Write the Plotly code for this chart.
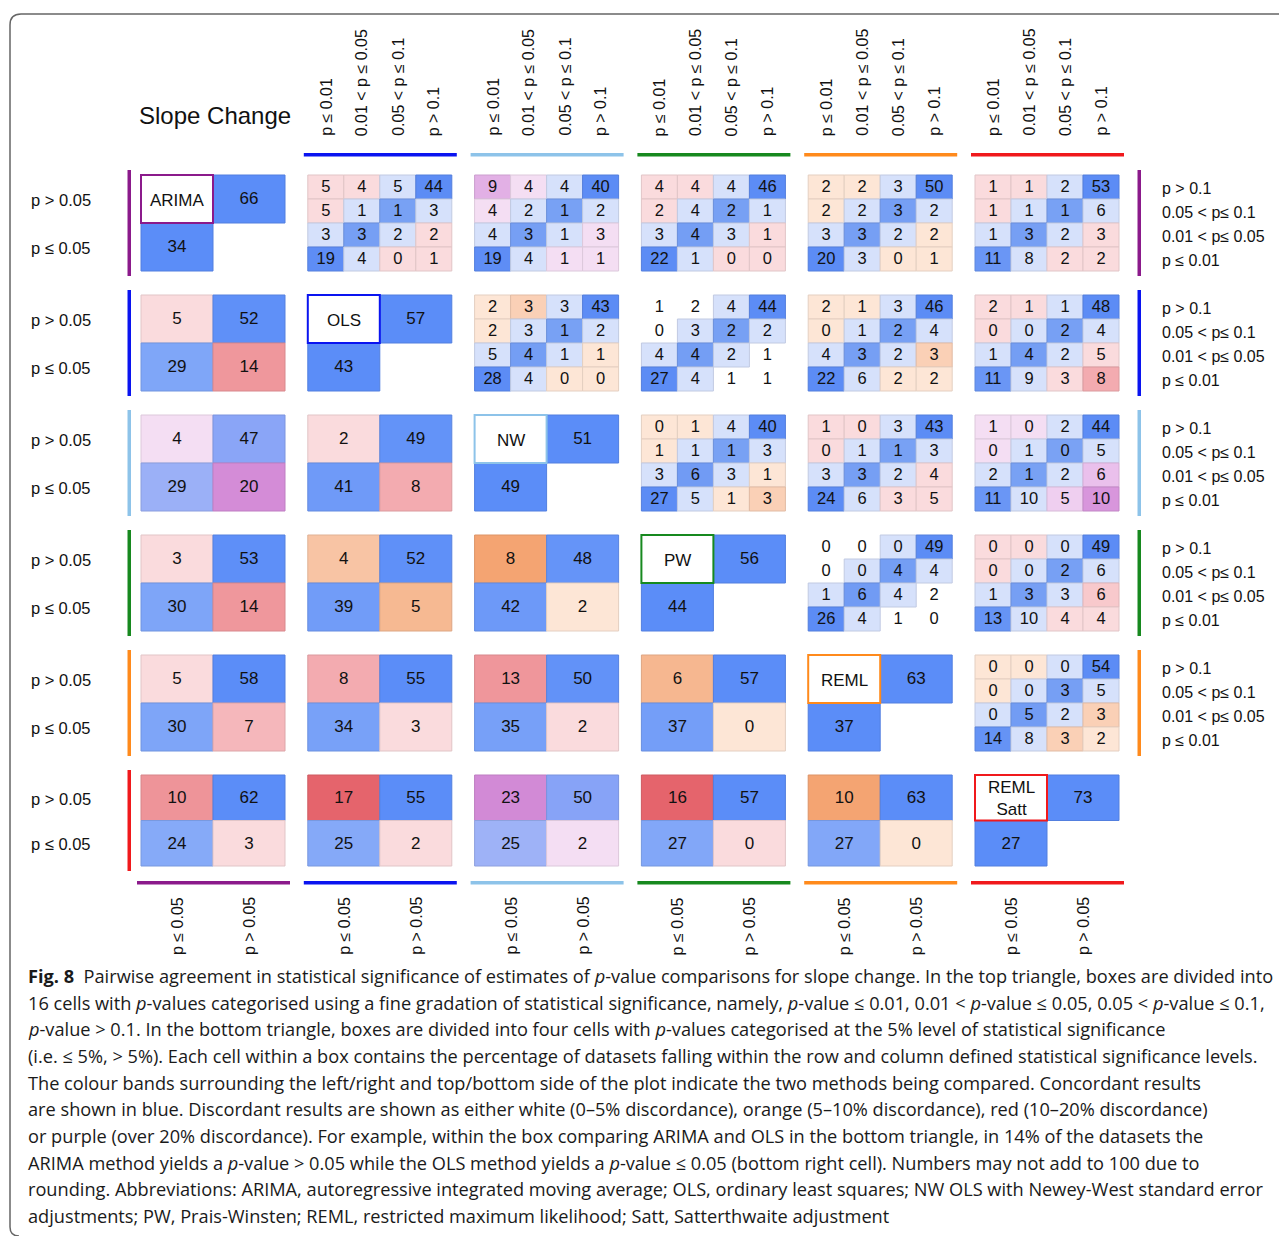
import plotly.graph_objects as go

W, H = 1287, 1236

# ---------------- data ----------------
methods = ["ARIMA", "OLS", "NW", "PW", "REML", "REML<br>Satt"]
method_colors = ["#8B1A8B", "#0A14F0", "#8DC3E9", "#17891F", "#FF8A1C", "#F0191C"]

# diagonal boxes: both methods p > 0.05 (top right), both p <= 0.05 (bottom left)
diag_top = [66, 57, 51, 56, 63, 73]
diag_bottom = [34, 43, 49, 44, 37, 27]

# bottom triangle (row method, col method): [row>0.05 & col<=0.05, both >0.05, both <=0.05, row<=0.05 & col>0.05]
coarse = {
    (1, 0): [5, 52, 29, 14],
    (2, 0): [4, 47, 29, 20],
    (2, 1): [2, 49, 41, 8],
    (3, 0): [3, 53, 30, 14],
    (3, 1): [4, 52, 39, 5],
    (3, 2): [8, 48, 42, 2],
    (4, 0): [5, 58, 30, 7],
    (4, 1): [8, 55, 34, 3],
    (4, 2): [13, 50, 35, 2],
    (4, 3): [6, 57, 37, 0],
    (5, 0): [10, 62, 24, 3],
    (5, 1): [17, 55, 25, 2],
    (5, 2): [23, 50, 25, 2],
    (5, 3): [16, 57, 27, 0],
    (5, 4): [10, 63, 27, 0],
}

# top triangle: 4x4, rows (row method) p>0.1 .. p<=0.01, cols (col method) p<=0.01 .. p>0.1
fine = {
    (0, 1): [[5, 4, 5, 44], [5, 1, 1, 3], [3, 3, 2, 2], [19, 4, 0, 1]],
    (0, 2): [[9, 4, 4, 40], [4, 2, 1, 2], [4, 3, 1, 3], [19, 4, 1, 1]],
    (0, 3): [[4, 4, 4, 46], [2, 4, 2, 1], [3, 4, 3, 1], [22, 1, 0, 0]],
    (0, 4): [[2, 2, 3, 50], [2, 2, 3, 2], [3, 3, 2, 2], [20, 3, 0, 1]],
    (0, 5): [[1, 1, 2, 53], [1, 1, 1, 6], [1, 3, 2, 3], [11, 8, 2, 2]],
    (1, 2): [[2, 3, 3, 43], [2, 3, 1, 2], [5, 4, 1, 1], [28, 4, 0, 0]],
    (1, 3): [[1, 2, 4, 44], [0, 3, 2, 2], [4, 4, 2, 1], [27, 4, 1, 1]],
    (1, 4): [[2, 1, 3, 46], [0, 1, 2, 4], [4, 3, 2, 3], [22, 6, 2, 2]],
    (1, 5): [[2, 1, 1, 48], [0, 0, 2, 4], [1, 4, 2, 5], [11, 9, 3, 8]],
    (2, 3): [[0, 1, 4, 40], [1, 1, 1, 3], [3, 6, 3, 1], [27, 5, 1, 3]],
    (2, 4): [[1, 0, 3, 43], [0, 1, 1, 3], [3, 3, 2, 4], [24, 6, 3, 5]],
    (2, 5): [[1, 0, 2, 44], [0, 1, 0, 5], [2, 1, 2, 6], [11, 10, 5, 10]],
    (3, 4): [[0, 0, 0, 49], [0, 0, 4, 4], [1, 6, 4, 2], [26, 4, 1, 0]],
    (3, 5): [[0, 0, 0, 49], [0, 0, 2, 6], [1, 3, 3, 6], [13, 10, 4, 4]],
    (4, 5): [[0, 0, 0, 54], [0, 0, 3, 5], [0, 5, 2, 3], [14, 8, 3, 2]],
}

# discordance category of each box
category = {
    (0, 1): "red", (0, 2): "purple", (0, 3): "red", (0, 4): "orange", (0, 5): "red",
    (1, 2): "orange", (1, 3): "white", (1, 4): "orange", (1, 5): "red",
    (2, 3): "orange", (2, 4): "red", (2, 5): "purple",
    (3, 4): "white", (3, 5): "red",
    (4, 5): "orange",
    (1, 0): "red", (2, 0): "purple", (2, 1): "red", (3, 0): "red", (3, 1): "orange",
    (3, 2): "orange", (4, 0): "red", (4, 1): "red", (4, 2): "red", (4, 3): "orange",
    (5, 0): "red", (5, 1): "red", (5, 2): "purple", (5, 3): "red", (5, 4): "orange",
}

coarse_row_labels = ["p > 0.05", "p ≤ 0.05"]
coarse_col_labels = ["p ≤ 0.05", "p > 0.05"]
fine_row_labels = ["p > 0.1", "0.05 < p≤ 0.1", "0.01 < p≤ 0.05", "p ≤ 0.01"]
fine_col_labels = ["p ≤ 0.01", "0.01 < p ≤ 0.05", "0.05 < p ≤ 0.1", "p > 0.1"]

title_text = "Slope Change"

caption_lines = [
    "<b>Fig. 8</b>  Pairwise agreement in statistical significance of estimates of <i>p</i>-value comparisons for slope change. In the top triangle, boxes are divided into",
    "16 cells with <i>p</i>-values categorised using a fine gradation of statistical significance, namely, <i>p</i>-value ≤ 0.01, 0.01 < <i>p</i>-value ≤ 0.05, 0.05 < <i>p</i>-value ≤ 0.1,",
    "<i>p</i>-value > 0.1. In the bottom triangle, boxes are divided into four cells with <i>p</i>-values categorised at the 5% level of statistical significance",
    "(i.e. ≤ 5%, > 5%). Each cell within a box contains the percentage of datasets falling within the row and column defined statistical significance levels.",
    "The colour bands surrounding the left/right and top/bottom side of the plot indicate the two methods being compared. Concordant results",
    "are shown in blue. Discordant results are shown as either white (0–5% discordance), orange (5–10% discordance), red (10–20% discordance)",
    "or purple (over 20% discordance). For example, within the box comparing ARIMA and OLS in the bottom triangle, in 14% of the datasets the",
    "ARIMA method yields a <i>p</i>-value > 0.05 while the OLS method yields a <i>p</i>-value ≤ 0.05 (bottom right cell). Numbers may not add to 100 due to",
    "rounding. Abbreviations: ARIMA, autoregressive integrated moving average; OLS, ordinary least squares; NW OLS with Newey-West standard error",
    "adjustments; PW, Prais-Winsten; REML, restricted maximum likelihood; Satt, Satterthwaite adjustment",
]

# ---------------- layout constants / styles ----------------
OFF = 8  # page body margin compensation
X0, DX, BW = 141.0, 166.8, 144.0
Y0, DY = 175.0, 120.0
BH = [96, 96, 96, 96, 96, 91]
FONT = "Liberation Sans, Arial, sans-serif"
CAP_FONT = "Open Sans, sans-serif"

# colour ramps for discordant cells: (value, rgb) anchors
RAMPS = {
    "red": [(0, (250, 219, 221)), (5, (250, 219, 221)), (7, (245, 183, 187)), (10, (238, 148, 153)),
            (15, (239, 152, 157)), (16, (229, 100, 108)), (30, (229, 96, 106))],
    "orange": [(0, (253, 230, 214)), (2, (253, 230, 214)), (3, (250, 208, 182)), (5, (246, 185, 146)),
               (6, (246, 183, 144)), (8, (244, 164, 114)), (30, (244, 162, 110))],
    "purple": [(0, (244, 222, 243)), (4, (244, 222, 243)), (6, (234, 192, 236)), (9, (226, 176, 229)),
               (10, (216, 150, 220)), (20, (212, 140, 215)), (30, (206, 134, 213))],
}


def clip(t):
    return max(0.0, min(1.0, t))


def lerp(a, b, t):
    return tuple(a[k] + (b[k] - a[k]) * t for k in range(3))


def hexc(c):
    return "#%02x%02x%02x" % tuple(int(round(v)) for v in c)


def darker(c, f=0.9):
    return tuple(v * f for v in c)


def ramp(anchors, v):
    if v <= anchors[0][0]:
        return anchors[0][1]
    for (v0, c0), (v1, c1) in zip(anchors[:-1], anchors[1:]):
        if v <= v1:
            return lerp(c0, c1, (v - v0) / (v1 - v0))
    return anchors[-1][1]


def disc_color(cat, v):
    if cat == "white":
        return None
    return ramp(RAMPS[cat], v)


def coarse_blue(v, cat):
    c = lerp((140, 174, 248), (91, 141, 248), clip((v - 20) / 35.0))
    if cat == "purple":
        c = lerp(c, (205, 195, 245), 0.35)
    return c


def fine_diag_blue(v):
    return lerp((122, 162, 244), (92, 140, 245), clip(v / 20.0))


FINE_ADJ = (214, 225, 251)
DIAG_BLUE = (91, 141, 248)


def bx(j):
    return X0 + j * DX


def by(i):
    return Y0 + i * DY


shapes = []
txt_x, txt_y, txt_s, txt_size = [], [], [], []
annotations = []


def add_cell(x0, y0, x1, y1, fill, text, size):
    if fill is not None:
        shapes.append(dict(type="rect", xref="x", yref="y", x0=x0, y0=y0, x1=x1, y1=y1,
                           fillcolor=hexc(fill), line=dict(color=hexc(darker(fill)), width=1),
                           layer="below"))
    txt_x.append((x0 + x1) / 2)
    txt_y.append((y0 + y1) / 2 + 1)
    txt_s.append(str(text))
    txt_size.append(size)


for i in range(6):
    for j in range(6):
        L, T, h = bx(j), by(i), BH[i]
        if i == j:
            cw, ch = BW / 2, h / 2
            shapes.append(dict(type="rect", xref="x", yref="y", x0=L, y0=T, x1=L + cw, y1=T + ch,
                               fillcolor="white", line=dict(color=method_colors[i], width=2)))
            annotations.append(dict(x=L + cw / 2, y=T + ch / 2 + 1, xref="x", yref="y", text=methods[i],
                                    showarrow=False, font=dict(family=FONT, size=17, color="#111")))
            add_cell(L + cw, T, L + 2 * cw, T + ch, DIAG_BLUE, diag_top[i], 17)
            add_cell(L, T + ch, L + cw, T + 2 * ch, DIAG_BLUE, diag_bottom[i], 17)
        elif i > j:
            vals = coarse[(i, j)]
            cat = category[(i, j)]
            cw, ch = BW / 2, h / 2
            fills = [disc_color(cat, vals[0]), coarse_blue(vals[1], cat),
                     coarse_blue(vals[2], cat), disc_color(cat, vals[3])]
            for k in range(4):
                r, c = divmod(k, 2)
                add_cell(L + c * cw, T + r * ch, L + (c + 1) * cw, T + (r + 1) * ch, fills[k], vals[k], 17)
        else:
            grid = fine[(i, j)]
            cat = category[(i, j)]
            cw, ch = BW / 4, h / 4
            for r in range(4):
                for c in range(4):
                    v = grid[r][c]
                    d = abs(r + c - 3)
                    if d == 0:
                        fill = fine_diag_blue(v)
                    elif d == 1:
                        fill = FINE_ADJ
                    else:
                        fill = disc_color(cat, v)
                    add_cell(L + c * cw, T + r * ch, L + (c + 1) * cw, T + (r + 1) * ch, fill, v, 16.5)

# colour bands
for j in range(6):
    L = bx(j)
    if j > 0:
        shapes.append(dict(type="rect", xref="x", yref="y", x0=L - 4, x1=L + BW + 5, y0=153, y1=156.5,
                           fillcolor=method_colors[j], line=dict(width=0)))
    shapes.append(dict(type="rect", xref="x", yref="y", x0=L - 4, x1=L + BW + 5, y0=881, y1=884.5,
                       fillcolor=method_colors[j], line=dict(width=0)))
for i in range(6):
    T = by(i)
    shapes.append(dict(type="rect", xref="x", yref="y", x0=127.5, x1=131, y0=T - 5, y1=T + BH[i] + 5,
                       fillcolor=method_colors[i], line=dict(width=0)))
    if i < 5:
        shapes.append(dict(type="rect", xref="x", yref="y", x0=1137.5, x1=1141, y0=T - 5, y1=T + BH[i] + 5,
                           fillcolor=method_colors[i], line=dict(width=0)))

# row labels (left, coarse) and right (fine)
for i in range(6):
    T = by(i)
    for r in range(2):
        annotations.append(dict(x=29, y=T + (r + 0.5) * BH[i] / 2 + 1, xref="x", yref="y", xanchor="left",
                                text=coarse_row_labels[r], showarrow=False,
                                font=dict(family=FONT, size=16.5, color="#111")))
    if i < 5:
        for r in range(4):
            annotations.append(dict(x=1160, y=T + (r + 0.5) * BH[i] / 4 + 1, xref="x", yref="y", xanchor="left",
                                    text=fine_row_labels[r], showarrow=False,
                                    font=dict(family=FONT, size=16, color="#111")))

# column labels top (fine) and bottom (coarse)
for j in range(6):
    L = bx(j)
    if j > 0:
        for c in range(4):
            annotations.append(dict(x=L + (c + 0.5) * BW / 4, y=138, xref="x", yref="y", yanchor="bottom",
                                    textangle=-90, text=fine_col_labels[c], showarrow=False,
                                    font=dict(family=FONT, size=16, color="#111")))
    for c in range(2):
        annotations.append(dict(x=L + (c + 0.5) * BW / 2, y=895, xref="x", yref="y", yanchor="top",
                                textangle=-90, text=coarse_col_labels[c], showarrow=False,
                                font=dict(family=FONT, size=16, color="#111")))

annotations.append(dict(x=215, y=115, xref="x", yref="y", text=title_text, showarrow=False,
                        font=dict(family=FONT, size=24, color="#111")))

# caption
for k, line in enumerate(caption_lines):
    annotations.append(dict(x=26, y=976 + k * 26.67, xref="x", yref="y", xanchor="left", text=line,
                            showarrow=False, font=dict(family=CAP_FONT, size=18.2, color="#1a1a1a")))

# outer rounded frame
shapes.append(dict(type="path", xref="x", yref="y",
                   path="M 10,1227 L 10,25 Q 10,14 21,14 L 1300,14",
                   line=dict(color="#666666", width=1.5)))
shapes.append(dict(type="path", xref="x", yref="y",
                   path="M 10,1227 Q 10,1236 19,1236",
                   line=dict(color="#666666", width=1.5)))

fig = go.Figure()
fig.add_trace(go.Scatter(x=txt_x, y=txt_y, mode="text", text=txt_s,
                         textfont=dict(family=FONT, size=txt_size, color="#111"),
                         hoverinfo="skip", showlegend=False))
fig.update_layout(
    width=W, height=H, margin=dict(l=0, r=0, t=0, b=0),
    paper_bgcolor="white", plot_bgcolor="white",
    xaxis=dict(range=[OFF, W + OFF], visible=False, fixedrange=True),
    yaxis=dict(range=[H + OFF, OFF], visible=False, fixedrange=True),
    shapes=shapes, annotations=annotations, showlegend=False,
)
fig.write_html("out.html")
